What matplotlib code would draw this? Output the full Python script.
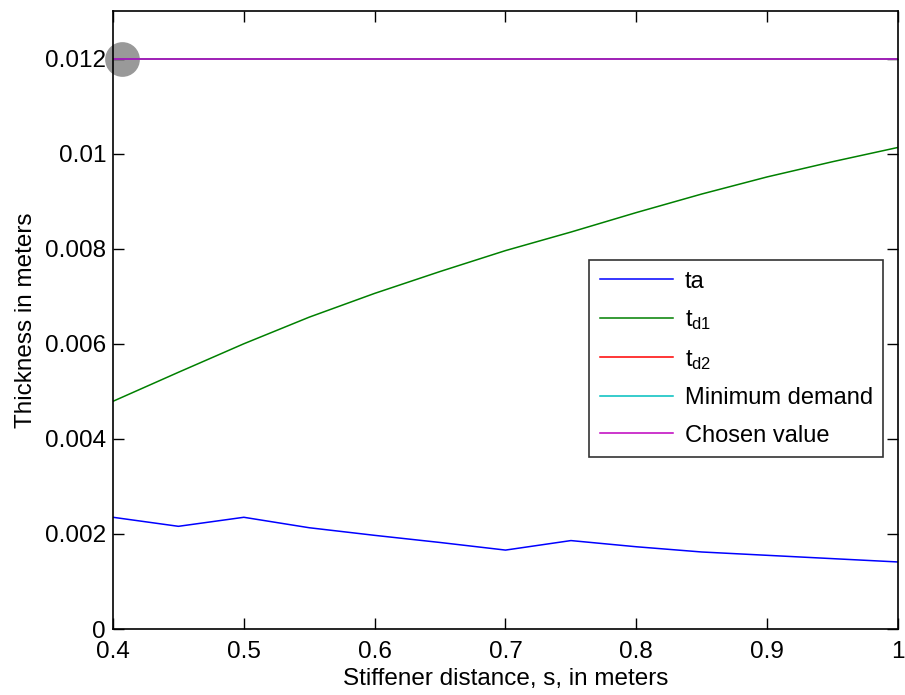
import matplotlib
matplotlib.use("Agg")
import matplotlib.pyplot as plt

plt.rcParams['font.family'] = ['Liberation Sans', 'DejaVu Sans']
plt.rcParams['mathtext.fontset'] = 'custom'
plt.rcParams['mathtext.rm'] = 'Liberation Sans'
plt.rcParams['mathtext.it'] = 'Liberation Sans'

s = [0.40, 0.45, 0.50, 0.55, 0.60, 0.65, 0.70, 0.75, 0.80, 0.85, 0.90, 0.95, 1.00]
ta = [0.00235, 0.00216, 0.00235, 0.00213, 0.00197, 0.00182, 0.00166, 0.00186,
      0.00173, 0.00162, 0.00155, 0.00148, 0.00141]
td1 = [0.00479, 0.00540, 0.00600, 0.00656, 0.00706, 0.00752, 0.00796, 0.00835,
       0.00876, 0.00915, 0.00951, 0.00983, 0.01013]
td2 = [0.012] * len(s)
min_demand = [0.012] * len(s)
chosen = [0.012] * len(s)
highlight_x = [0.4065]
highlight_y = [0.012]

labels = ['ta', r't$_{\mathrm{d1}}$', r't$_{\mathrm{d2}}$', 'Minimum demand', 'Chosen value']
colors = ['#0000ff', '#008000', '#ff0000', '#00bfbf', '#bf00bf']

xticks = [0.4, 0.5, 0.6, 0.7, 0.8, 0.9, 1.0]
xticklabels = ['0.4', '0.5', '0.6', '0.7', '0.8', '0.9', '1']
yticks = [0, 0.002, 0.004, 0.006, 0.008, 0.010, 0.012]
yticklabels = ['0', '0.002', '0.004', '0.006', '0.008', '0.01', '0.012']

fig = plt.figure(figsize=(9.05, 6.95), dpi=100)
ax = fig.add_axes([113/905, 66/695, (898-113)/905, (629-11)/695])

ax.plot(highlight_x, highlight_y, 'o', color='#999999', markersize=25,
        markeredgewidth=0, clip_on=False, zorder=1)
series = [ta, td1, td2, min_demand, chosen]
for ys, lab, col in zip(series, labels, colors):
    ax.plot(s, ys, color=col, lw=1.1, label=lab, zorder=2)

ax.set_xlim(0.4, 1.0)
ax.set_ylim(0, 0.013)
ax.set_xticks(xticks)
ax.set_xticklabels(xticklabels)
ax.set_yticks(yticks)
ax.set_yticklabels(yticklabels)
ax.tick_params(direction='in', length=8, width=1, top=True, right=True,
               labelsize=17.5)
ax.tick_params(axis='x', pad=9)
ax.tick_params(axis='y', pad=5)
for sp in ax.spines.values():
    sp.set_linewidth(1.2)

ax.set_xlabel('Stiffener distance, s, in meters', fontsize=17.5, labelpad=3)
ax.set_ylabel('Thickness in meters', fontsize=17.5, labelpad=6)

leg = ax.legend(loc='upper left', bbox_to_anchor=((589-113)/785, (629-260)/618),
                fontsize=17, frameon=True, fancybox=False, edgecolor='black',
                handlelength=3.1, handletextpad=0.5, labelspacing=0.66,
                borderpad=0.45, borderaxespad=0)
leg.get_frame().set_linewidth(1.2)

fig.savefig('out.png', dpi=100)
